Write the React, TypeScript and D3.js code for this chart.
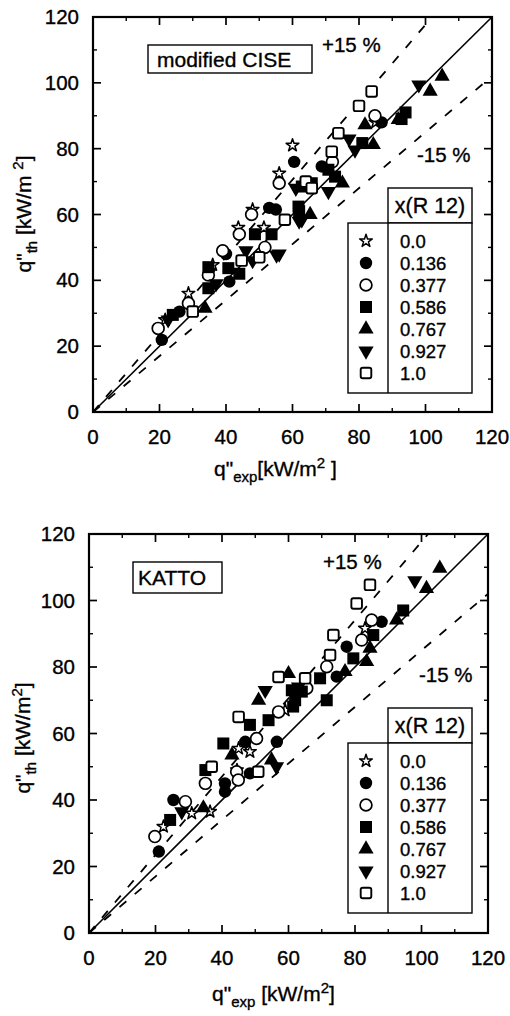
import React from 'react';
import * as d3 from 'd3';

type Pt = [number, number];

const MAJOR_TICKS = [0, 20, 40, 60, 80, 100, 120];
const MINOR_TICKS = [10, 30, 50, 70, 90, 110];
const LEGEND_LABELS = ['0.0', '0.136', '0.377', '0.586', '0.767', '0.927', '1.0'];
const SYMBOL_KINDS = ['star', 'circleFilled', 'circleOpen', 'squareFilled', 'triUp', 'triDown', 'squareOpen'];
const PLUS_FACTOR = 1 / 0.85;
const MINUS_FACTOR = 0.85;

// ---- modified CISE ----
const ciseStar: Pt[] = [[60, 81], [56, 72.5], [48, 61.5], [43.7, 56], [51.4, 56], [36, 44.7], [28.7, 36], [21.7, 28], [85, 88]];
const ciseCircleFilled: Pt[] = [[60.5, 76], [55, 61.5], [40, 48], [41, 39.6], [26, 30.5], [20.7, 21.9], [86.8, 88], [68.8, 74.6], [53, 62]];
const ciseCircleOpen: Pt[] = [[56, 69.5], [47.7, 60], [44, 54], [51.7, 50], [39, 49], [34.7, 41.6], [28.7, 33], [19.6, 25.4], [84.8, 90], [72, 76]];
const ciseSquareFilled: Pt[] = [[62, 61], [48.7, 54], [53.7, 54], [34.7, 44], [40.7, 43.7], [34.7, 37.6], [24, 29.5], [94, 91], [92.8, 89], [81, 81.7], [70.8, 73.6], [72.8, 71.5], [65.8, 69.5], [62.8, 68.5], [61.8, 62.4], [44, 42]];
const ciseTriUp: Pt[] = [[105, 102], [101.4, 97.4], [91.8, 88.8], [81.8, 87.2], [84.3, 81.2], [65.3, 60], [33.7, 31.5], [75, 69.5]];
const ciseTriDown: Pt[] = [[61, 68], [62, 58], [56, 48], [46, 49], [48, 46], [37, 39], [22.6, 28], [98, 99.4], [77, 83], [78.8, 79.6], [70.8, 67], [62.8, 58.4], [55.2, 47.7]];
const ciseSquareOpen: Pt[] = [[64, 70], [44.7, 46], [50, 47], [30, 30.5], [83.8, 97.4], [80, 93], [73.8, 84.7], [71.8, 79.1], [65.8, 68], [57.7, 58.4]];

// ---- KATTO ----
const kattoStar: Pt[] = [[59, 67], [45, 55.5], [48.4, 54.5], [44.5, 49], [30.9, 36], [36.4, 36.5], [22.4, 32], [83, 91.6]];
const kattoCircleFilled: Pt[] = [[47, 57.5], [56.5, 57.5], [48.4, 48], [40.9, 45], [40.9, 42.5], [25.4, 40], [21, 24.5], [88, 93.6], [77.5, 86.1], [74.5, 77.1]];
const kattoCircleOpen: Pt[] = [[57, 66.5], [50.4, 58.5], [44.4, 48.5], [35, 45], [44.9, 46], [29, 39.5], [19.8, 29], [85, 94.1], [82, 88.1], [71.5, 80.1], [65.5, 73.6]];
const kattoSquareFilled: Pt[] = [[61, 73], [62, 70], [48.4, 62.6], [54, 64], [40.4, 57], [35, 49], [24.4, 34], [94.5, 97], [85.5, 89.6], [79.5, 82.6], [69.5, 76.6], [64, 72.6], [71.5, 70], [61.4, 68.1]];
const kattoTriUp: Pt[] = [[60, 78], [51, 70], [43, 53.5], [54.9, 52], [34.4, 37.6], [105.5, 109.7], [101.5, 103.6], [92.5, 94.1], [84.5, 85.6], [83.5, 81.6], [77, 78.6]];
const kattoTriDown: Pt[] = [[53, 73], [56.4, 50], [27.9, 36.5], [98, 106], [63, 74]];
const kattoSquareOpen: Pt[] = [[57, 77], [45, 65], [50.9, 48.5], [36.9, 50], [84.5, 104.7], [80.5, 99.1], [73.5, 89.6], [72.5, 83.6], [65, 76.6]];

const ciseSeries = [ciseStar, ciseCircleFilled, ciseCircleOpen, ciseSquareFilled, ciseTriUp, ciseTriDown, ciseSquareOpen];
const kattoSeries = [kattoStar, kattoCircleFilled, kattoCircleOpen, kattoSquareFilled, kattoTriUp, kattoTriDown, kattoSquareOpen];

const FONT = '"Liberation Sans", Arial, Helvetica, sans-serif';

const starPath = d3.symbol(d3.symbolStar, 50)() as string;
const triPath = d3.symbol(d3.symbolTriangle, 100)() as string;

function Marker({ kind, x, y }: { kind: string; x: number; y: number }) {
  switch (kind) {
    case 'star':
      return <path d={starPath} transform={`translate(${x},${y})`} fill="#fff" stroke="#000" strokeWidth={1.5} strokeLinejoin="round" />;
    case 'circleFilled':
      return <circle cx={x} cy={y} r={6.2} fill="#000" />;
    case 'circleOpen':
      return <circle cx={x} cy={y} r={5.9} fill="#fff" stroke="#000" strokeWidth={1.7} />;
    case 'squareFilled':
      return <rect x={x - 6} y={y - 6} width={12} height={12} fill="#000" />;
    case 'triUp':
      return <path d={triPath} transform={`translate(${x},${y})`} fill="#000" />;
    case 'triDown':
      return <path d={triPath} transform={`translate(${x},${y}) rotate(180)`} fill="#000" />;
    case 'squareOpen':
      return <rect x={x - 5.3} y={y - 5.3} width={10.6} height={10.6} rx={2} fill="#fff" stroke="#000" strokeWidth={1.9} />;
  }
  return null;
}

interface PanelCfg {
  left: number; right: number; top: number; bottom: number;
  series: Pt[][];
  boxLabel: string; box: [number, number, number, number]; boxText: [number, number];
  plus: [number, number]; minus: [number, number];
  legendTop: number;
  xTitle: [number, number]; xTitleSpaced: boolean;
  yTitle: [number, number]; yTitleSpaced: boolean;
}

const TXT = { stroke: '#000', strokeWidth: 0.35 };

function Panel({ c }: { c: PanelCfg }) {
  const x = d3.scaleLinear().domain([0, 120]).range([c.left, c.right]);
  const y = d3.scaleLinear().domain([0, 120]).range([c.bottom, c.top]);
  const line = d3.line<Pt>().x(d => x(d[0])).y(d => y(d[1]));
  const diag: Pt[] = [[0, 0], [120, 120]];
  const upper: Pt[] = [[0, 0], [120 / PLUS_FACTOR, 120]];
  const lower: Pt[] = [[0, 0], [120, 120 * MINUS_FACTOR]];
  const maj = 8, mn = 4;

  const lx0 = 348, lx1 = 388, lx2 = 472;
  const hTop = c.legendTop, hBot = c.legendTop + 35, lBot = c.legendTop + 205;
  const rowStart = hBot + 18, rowStep = 22;

  return (
    <g fontFamily={FONT} fill="#000">
      <path d={line(diag) as string} stroke="#000" strokeWidth={1.6} fill="none" />
      <path d={line(upper) as string} stroke="#000" strokeWidth={1.8} fill="none" strokeDasharray="9 11" />
      <path d={line(lower) as string} stroke="#000" strokeWidth={1.8} fill="none" strokeDasharray="9 11" />

      <rect x={c.left} y={c.top} width={c.right - c.left} height={c.bottom - c.top} fill="none" stroke="#000" strokeWidth={2.2} />

      {MAJOR_TICKS.map(t => (
        <g key={'M' + t} stroke="#000" strokeWidth={1.7}>
          <line x1={x(t)} x2={x(t)} y1={c.bottom} y2={c.bottom - maj} />
          <line x1={x(t)} x2={x(t)} y1={c.top} y2={c.top + maj} />
          <line x1={c.left} x2={c.left + maj} y1={y(t)} y2={y(t)} />
          <line x1={c.right} x2={c.right - maj} y1={y(t)} y2={y(t)} />
        </g>
      ))}
      {MINOR_TICKS.map(t => (
        <g key={'m' + t} stroke="#000" strokeWidth={1.4}>
          <line x1={x(t)} x2={x(t)} y1={c.bottom} y2={c.bottom - mn} />
          <line x1={x(t)} x2={x(t)} y1={c.top} y2={c.top + mn} />
          <line x1={c.left} x2={c.left + mn} y1={y(t)} y2={y(t)} />
          <line x1={c.right} x2={c.right - mn} y1={y(t)} y2={y(t)} />
        </g>
      ))}

      {MAJOR_TICKS.map(t => (
        <text key={'xl' + t} x={x(t)} y={c.bottom + 32} fontSize={20.5} textAnchor="middle" {...TXT}>{t}</text>
      ))}
      {MAJOR_TICKS.map(t => (
        <text key={'yl' + t} x={c.left - 14} y={y(t) + 7} fontSize={20.5} textAnchor="end" {...TXT}>{t}</text>
      ))}

      <text x={c.xTitle[0]} y={c.xTitle[1]} fontSize={21} {...TXT}>
        q"<tspan fontSize={15} dy={6}>exp</tspan>
        <tspan dy={-6}>{c.xTitleSpaced ? ' [kW/m' : '[kW/m'}</tspan>
        <tspan fontSize={15} dy={-8}>2</tspan>
        <tspan dy={8}>{c.xTitleSpaced ? ']' : ' ]'}</tspan>
      </text>
      <text transform={`translate(${c.yTitle[0]},${c.yTitle[1]}) rotate(-90)`} fontSize={21} textAnchor="middle" {...TXT}>
        q"<tspan fontSize={15} dy={6}>th</tspan>
        <tspan dy={-6}>{c.yTitleSpaced ? ' [kW/m ' : ' [kW/m'}</tspan>
        <tspan fontSize={15} dy={-8}>2</tspan>
        <tspan dy={8}>]</tspan>
      </text>

      <rect x={c.box[0]} y={c.box[1]} width={c.box[2]} height={c.box[3]} fill="#fff" stroke="#000" strokeWidth={1.4} />
      <text x={c.boxText[0]} y={c.boxText[1]} fontSize={21} {...TXT}>{c.boxLabel}</text>

      <text x={c.plus[0]} y={c.plus[1]} fontSize={20.5} {...TXT}>+15 %</text>
      <text x={c.minus[0]} y={c.minus[1]} fontSize={20.5} {...TXT}>-15 %</text>

      {c.series.map((s, i) => (
        <g key={'s' + i}>
          {s.map((p, j) => <Marker key={j} kind={SYMBOL_KINDS[i]} x={x(p[0])} y={y(p[1])} />)}
        </g>
      ))}

      <rect x={lx1} y={hTop} width={lx2 - lx1} height={hBot - hTop} fill="#fff" stroke="#000" strokeWidth={1.4} />
      <text x={(lx1 + lx2) / 2} y={hTop + 25} fontSize={21.5} textAnchor="middle" {...TXT}>x(R 12)</text>
      <rect x={lx0} y={hBot} width={lx2 - lx0} height={lBot - hBot} fill="#fff" stroke="#000" strokeWidth={1.4} />
      <line x1={lx1} x2={lx1} y1={hBot} y2={lBot} stroke="#000" strokeWidth={1.4} />
      {LEGEND_LABELS.map((lab, i) => (
        <g key={'lg' + i}>
          <Marker kind={SYMBOL_KINDS[i]} x={366} y={rowStart + i * rowStep} />
          <text x={400} y={rowStart + i * rowStep + 6.5} fontSize={18.5} {...TXT}>{lab}</text>
        </g>
      ))}
    </g>
  );
}

const TOP: PanelCfg = {
  left: 93, right: 492, top: 17, bottom: 412,
  series: ciseSeries,
  boxLabel: 'modified CISE', box: [148, 45, 164, 28], boxText: [157, 67],
  plus: [322, 52], minus: [417, 162],
  legendTop: 188,
  xTitle: [214, 476], xTitleSpaced: false,
  yTitle: [31, 214], yTitleSpaced: true,
};

const BOTTOM: PanelCfg = {
  left: 89, right: 488, top: 534, bottom: 933,
  series: kattoSeries,
  boxLabel: 'KATTO', box: [133, 562, 89, 31], boxText: [138, 585],
  plus: [323, 569], minus: [419, 682],
  legendTop: 708,
  xTitle: [212, 1001], xTitleSpaced: true,
  yTitle: [30, 738], yTitleSpaced: false,
};

export default function App() {
  return (
    <svg width={510} height={1016} style={{ position: 'absolute', left: 0, top: 0, background: '#fff' }}>
      <rect width={510} height={1016} fill="#fff" />
      <Panel c={TOP} />
      <Panel c={BOTTOM} />
    </svg>
  );
}
